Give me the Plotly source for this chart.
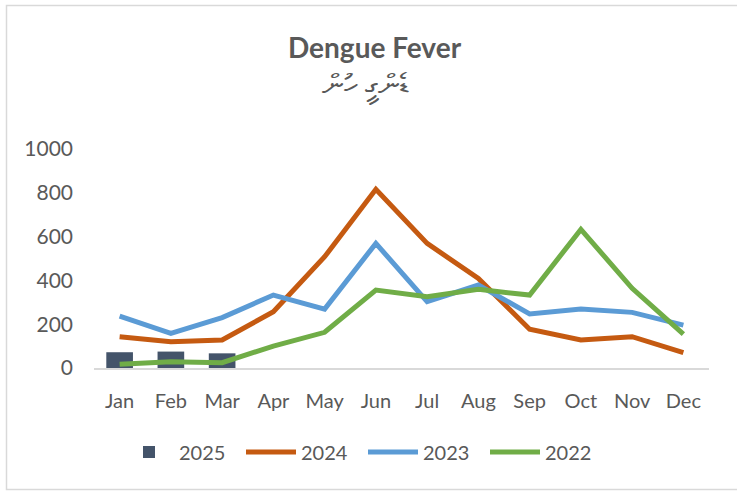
import plotly.graph_objects as go

months = ["Jan", "Feb", "Mar", "Apr", "May", "Jun", "Jul", "Aug", "Sep", "Oct", "Nov", "Dec"]
cases_2025 = [72, 75, 67]
cases_2024 = [143, 120, 128, 257, 508, 816, 569, 409, 177, 128, 143, 70]
cases_2023 = [237, 158, 230, 333, 269, 569, 303, 379, 247, 269, 254, 196]
cases_2022 = [17, 29, 24, 100, 163, 356, 326, 359, 333, 633, 364, 155]
y_ticks = [0, 200, 400, 600, 800, 1000]

title_text = "Dengue Fever"
subtitle_text = "ޑެންގީ ހުން"

FONT = "Lato, Calibri, 'Open Sans', sans-serif"
GRAY = "#595959"

L, R, T, B = 94, 28, 149, 123
W, H = 737, 491
PW = W - L - R
PH = H - T - B

def px_x(px):
    return (px - L) / PW

def px_y(py):
    return (H - B - py) / PH

fig = go.Figure()
fig.add_trace(go.Bar(x=months[:len(cases_2025)], y=cases_2025, name="2025",
                     marker=dict(color="#44546A", line=dict(width=0)), width=0.52))
fig.add_trace(go.Scatter(x=months, y=cases_2024, name="2024", mode="lines",
                         line=dict(color="#C55A11", width=5)))
fig.add_trace(go.Scatter(x=months, y=cases_2023, name="2023", mode="lines",
                         line=dict(color="#5B9BD5", width=5)))
fig.add_trace(go.Scatter(x=months, y=cases_2022, name="2022", mode="lines",
                         line=dict(color="#70AD47", width=5)))

fig.update_layout(
    width=W, height=H,
    margin=dict(l=L, r=R, t=T, b=B, pad=0, autoexpand=False),
    paper_bgcolor="white", plot_bgcolor="white",
    font=dict(family=FONT, color=GRAY, size=20),
    showlegend=True,
    legend=dict(orientation="h", x=px_x(119), xanchor="left", y=px_y(452), yanchor="middle",
                font=dict(size=20, color=GRAY), itemwidth=50, entrywidth=57,
                entrywidthmode="pixels", traceorder="normal",
                bgcolor="rgba(0,0,0,0)"),
    xaxis=dict(type="category", categoryorder="array", categoryarray=months,
               showgrid=False, showline=True, linecolor="#D9D9D9", linewidth=1.5,
               ticks="", ticklabelstandoff=14, tickfont=dict(size=20, color=GRAY),
               range=[-0.5, 11.5], fixedrange=True),
    yaxis=dict(range=[0, 1000], tickvals=y_ticks, showgrid=False, zeroline=False,
               showline=False, ticks="", ticklabelstandoff=20,
               tickfont=dict(size=21, color=GRAY), fixedrange=True),
    annotations=[
        dict(text="<b>" + title_text + "</b>", xref="paper", yref="paper",
             x=px_x(375), y=px_y(47), xanchor="center", yanchor="middle",
             showarrow=False, font=dict(size=28, color=GRAY, family=FONT)),
        dict(text=subtitle_text, xref="paper", yref="paper",
             x=px_x(365), y=px_y(85), xanchor="center", yanchor="middle",
             showarrow=False, font=dict(size=30, color=GRAY, family=FONT)),
    ],
    shapes=[
        dict(type="rect", xref="paper", yref="paper",
             x0=px_x(6.5), x1=px_x(745), y0=px_y(489.5), y1=px_y(5.5),
             line=dict(color="#D9D9D9", width=1.5), fillcolor="rgba(0,0,0,0)", layer="below"),
    ],
)

fig.write_html("out.html", config={"displayModeBar": False},
               post_script="document.body.style.margin='0';")
